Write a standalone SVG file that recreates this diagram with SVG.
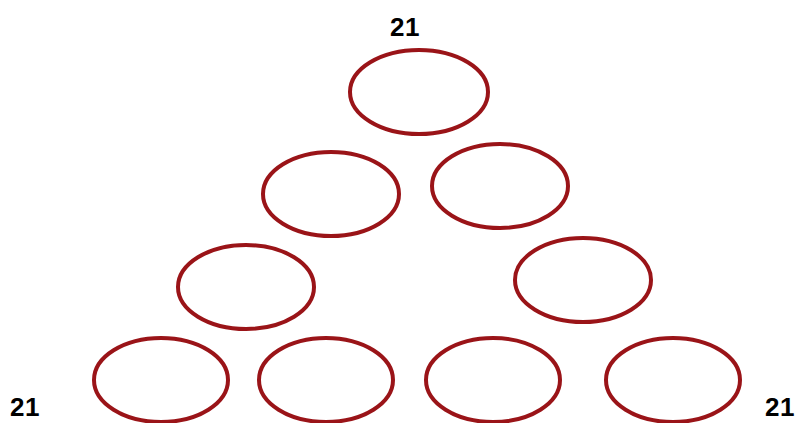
<svg xmlns="http://www.w3.org/2000/svg" width="800" height="423" viewBox="0 0 800 423">
<style>
.n{fill:none;stroke:#9a1418;stroke-width:4}
.t{font-family:"Liberation Sans",Arial,sans-serif;font-weight:bold;font-size:26px;letter-spacing:0.5px;fill:#000}
</style>
<rect width="800" height="423" fill="#fff"/>
<g id="n1"><ellipse class="n" cx="419" cy="92" rx="69" ry="42"/></g>
<g id="n2"><ellipse class="n" cx="331" cy="194" rx="68" ry="42"/></g>
<g id="n3"><ellipse class="n" cx="500" cy="186" rx="68" ry="42"/></g>
<g id="n4"><ellipse class="n" cx="246" cy="287" rx="68" ry="42"/></g>
<g id="n5"><ellipse class="n" cx="583" cy="280" rx="68" ry="42"/></g>
<g id="n6"><ellipse class="n" cx="161" cy="380" rx="67" ry="42"/></g>
<g id="n7"><ellipse class="n" cx="326" cy="380" rx="67" ry="42"/></g>
<g id="n8"><ellipse class="n" cx="493" cy="380" rx="67" ry="42"/></g>
<g id="n9"><ellipse class="n" cx="673" cy="380" rx="67" ry="42"/></g>
<g id="connectors"/>
<text class="t" x="390" y="36">21</text>
<text class="t" x="10" y="416">21</text>
<text class="t" x="765" y="416">21</text>
</svg>
